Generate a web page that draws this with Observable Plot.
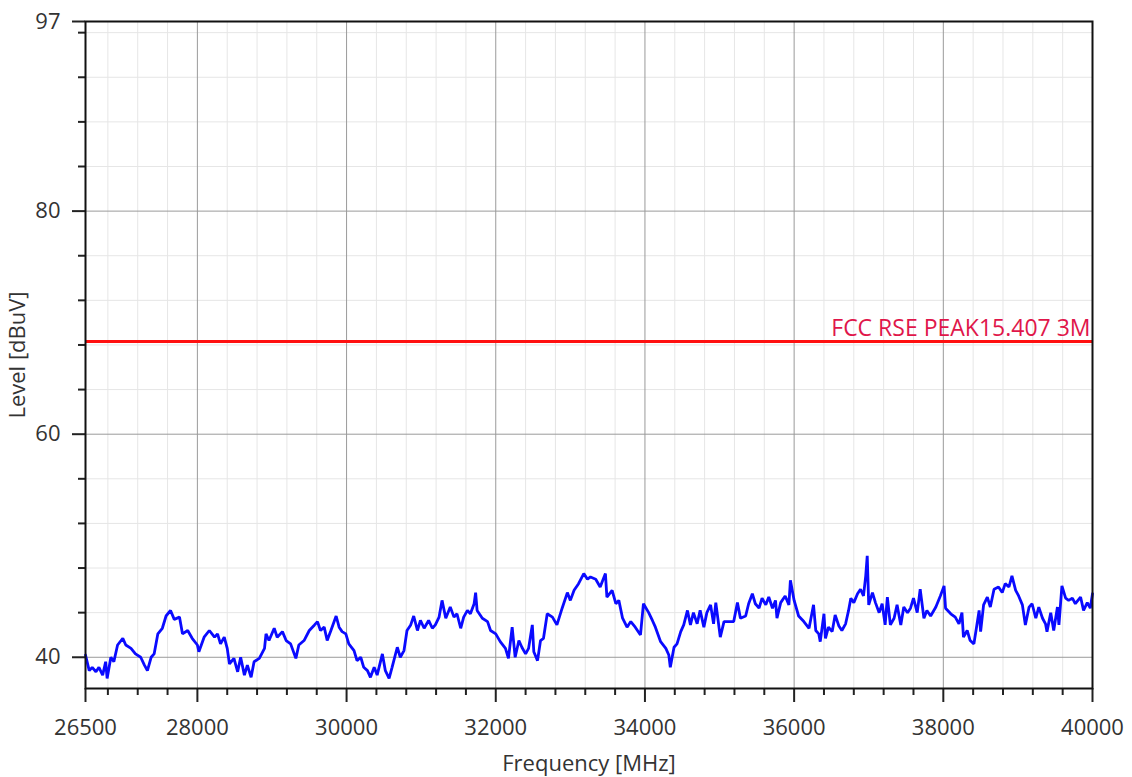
<!DOCTYPE html>
<html>
<head>
<meta charset="utf-8">
<script src="https://cdn.jsdelivr.net/npm/d3@7"></script>
<script src="https://cdn.jsdelivr.net/npm/@observablehq/plot@0.6"></script>
<style>
  html, body { margin: 0; padding: 0; background: #fff; }
  #chart { width: 1132px; height: 777px; }
</style>
</head>
<body>
<div id="chart"></div>
<script>
// Measured trace: frequency (MHz) and level (dBuV)
const freq = [
  26500,26550,26590,26640,26680,26730,26770,26790,26840,26880,26930,27000,27040,27110,27170,27240,27290,27330,27380,27420,
  27470,27530,27580,27640,27690,27760,27800,27870,27930,28000,28020,28090,28160,28230,28270,28310,28360,28400,28430,28490,
  28540,28580,28630,28670,28720,28760,28830,28900,28920,28960,29030,29070,29140,29190,29250,29320,29360,29430,29500,29570,
  29610,29650,29700,29740,29790,29860,
  29900,29940,29990,30030,30100,30140,30190,30230,30280,30320,30370,30410,30480,30520,30570,30610,30680,30720,30770,30810,
  30860,30900,30950,30990,31040,31100,31150,31190,31240,31280,31330,31390,31440,31480,31530,31570,31620,31660,31710,31730,
  31750,31820,31890,31930,32000,32060,32130,32170,32220,32260,32310,32350,32400,32440,32490,32510,32560,32600,32640,32690,
  32760,32820,32890,32960,33000,33050,33110,33180,33230,33270,
  33340,33400,33470,33490,33560,33610,33650,33700,33760,33810,33870,33940,33980,34050,34100,34140,34210,34280,34320,34340,
  34390,34430,34480,34520,34570,34610,34650,34700,34740,34790,34830,34880,34920,34950,35010,35060,35120,35190,35240,35280,
  35350,35390,35440,35480,35530,35570,35620,35660,35710,35750,35770,35820,35880,35930,35950,36000,36060,36130,36200,36260,
  36290,36330,36350,36400,36420,36460,36510,36550,36600,
  36640,36690,36730,36760,36800,36850,36890,36930,36960,36980,37000,37050,37090,37140,37180,37220,37250,37290,37340,37380,
  37430,37470,37520,37560,37600,37650,37690,37740,37780,37830,37900,37960,38010,38030,38100,38160,38210,38250,38270,38320,
  38360,38410,38450,38480,38500,38540,38590,38630,38680,38740,38790,38830,38880,38920,38970,39010,39060,39100,39150,39190,
  39240,39280,39330,39370,39390,39440,39480,39530,39550,39590,39640,39680,39730,39770,39840,39880,39930,39970,40000
];
const level = [
  40.2,38.8,39.1,38.7,39.1,38.4,39.6,38.1,40.0,39.6,41.1,41.7,41.1,40.8,40.3,40.0,39.3,38.8,40.0,40.3,
  42.1,42.6,43.7,44.2,43.4,43.6,42.1,42.4,41.7,41.1,40.5,41.8,42.4,41.8,42.1,41.2,41.8,40.8,39.4,39.9,
  38.7,40.0,38.4,39.3,38.2,39.6,39.9,40.8,42.1,41.5,42.6,41.8,42.3,41.5,41.2,39.9,41.1,41.5,42.4,42.9,
  43.2,42.4,42.7,41.5,42.4,43.7,
  42.7,42.3,42.1,41.2,40.6,39.7,40.0,39.1,38.8,38.2,39.1,38.4,40.3,38.8,38.1,39.1,40.9,40.0,40.6,42.4,
  42.9,43.7,42.4,43.3,42.6,43.3,42.6,42.9,43.6,45.1,43.5,44.5,43.6,43.9,42.6,43.6,44.2,43.9,44.8,45.8,
  44.2,43.5,43.2,42.4,42.1,41.4,40.8,39.9,42.7,40.0,41.5,40.9,40.3,40.8,42.9,40.5,39.7,41.5,41.7,43.9,
  43.6,42.9,44.4,45.8,45.1,46.0,46.6,47.5,47.0,47.2,
  47.0,46.3,47.5,45.4,46.0,44.8,45.1,43.5,42.7,43.2,42.7,42.0,44.8,44.0,43.3,42.7,41.4,40.8,40.2,39.1,
  40.9,41.2,42.3,42.9,44.2,42.9,44.0,43.0,44.2,42.7,44.0,44.7,43.0,44.9,41.8,43.2,43.2,43.2,44.9,43.5,
  43.7,44.8,45.7,44.8,44.4,45.3,44.7,45.4,44.4,45.1,43.5,44.9,45.5,44.7,46.9,45.1,43.7,43.2,42.6,44.7,
  42.4,42.1,41.4,43.9,41.7,42.7,42.3,43.8,42.8,
  42.4,43.0,44.2,45.3,44.9,45.7,46.1,45.5,47.3,49.1,44.7,45.8,44.9,44.0,44.8,42.9,45.4,42.9,43.5,44.7,
  42.9,44.5,44.0,44.4,45.3,44.0,46.1,43.5,44.2,43.7,44.5,45.5,46.4,44.4,43.9,43.6,43.0,44.0,41.8,42.4,
  41.5,41.2,42.9,44.2,42.3,44.7,45.4,44.5,46.1,46.3,45.8,46.6,46.3,47.3,46.0,45.5,44.7,42.9,44.5,44.8,
  43.5,44.5,43.5,43.0,42.3,44.0,42.4,44.5,42.9,46.4,45.3,45.1,45.3,44.8,45.4,44.2,44.9,44.4,45.7
];
const limitLevel = 68.3;
const limitLabel = "FCC RSE PEAK15.407 3M";

const xMajor = [26500, 28000, 30000, 32000, 34000, 36000, 38000, 40000];
const xMinor = [26800,27200,27600,28400,28800,29200,29600,30400,30800,31200,31600,32400,32800,33200,33600,
                34400,34800,35200,35600,36400,36800,37200,37600,38400,38800,39200,39600];
const yMajor = [40, 60, 80, 97];
const yGrid = [40, 60, 80];
const yMinor = [44,48,52,56,64,68,72,76,84,88,92,96];

const trace = freq.map((f, i) => ({f, v: level[i]}));

const chart = Plot.plot({
  width: 1132,
  height: 777,
  marginLeft: 85,
  marginRight: 40,
  marginTop: 21,
  marginBottom: 89,
  style: {fontFamily: "'Open Sans', sans-serif", fontSize: "22px", color: "#333", background: "#fff"},
  x: {domain: [26500, 40000]},
  y: {domain: [37.2, 97]},
  marks: [
    Plot.ruleX(xMinor, {stroke: "#e6e6e6", strokeWidth: 1}),
    Plot.ruleY(yMinor, {stroke: "#e6e6e6", strokeWidth: 1}),
    Plot.ruleX(xMajor, {stroke: "#9a9a9a", strokeWidth: 1}),
    Plot.ruleY(yGrid, {stroke: "#9a9a9a", strokeWidth: 1}),
    Plot.line(trace, {x: "f", y: "v", stroke: "#0a0aff", strokeWidth: 2.8, strokeLinejoin: "miter"}),
    Plot.ruleY([limitLevel], {stroke: "#ff1010", strokeWidth: 3}),
    Plot.text([limitLabel], {x: 40000, y: limitLevel, text: d => d, textAnchor: "end", lineAnchor: "bottom", dy: -6, dx: -2, fill: "#e0164a", fontSize: 23}),
    Plot.axisX(xMinor, {tickSize: 7, tickFormat: () => "", label: null, stroke: "#222", strokeWidth: 2}),
    Plot.axisX(xMajor, {tickSize: 14, tickPadding: 17, tickFormat: d => String(d), stroke: "#222", strokeWidth: 2,
      label: "Frequency [MHz]", labelArrow: "none", labelAnchor: "center", labelOffset: 82}),
    Plot.axisY(yMinor, {tickSize: 7, tickFormat: () => "", label: null, stroke: "#222", strokeWidth: 2}),
    Plot.axisY(yMajor, {tickSize: 13, tickPadding: 12, tickFormat: d => String(d), stroke: "#222", strokeWidth: 2,
      label: "Level [dBuV]", labelArrow: "none", labelAnchor: "center", labelOffset: 76}),
    Plot.frame({stroke: "#111", strokeWidth: 2})
  ]
});
document.getElementById("chart").appendChild(chart);
</script>
</body>
</html>
